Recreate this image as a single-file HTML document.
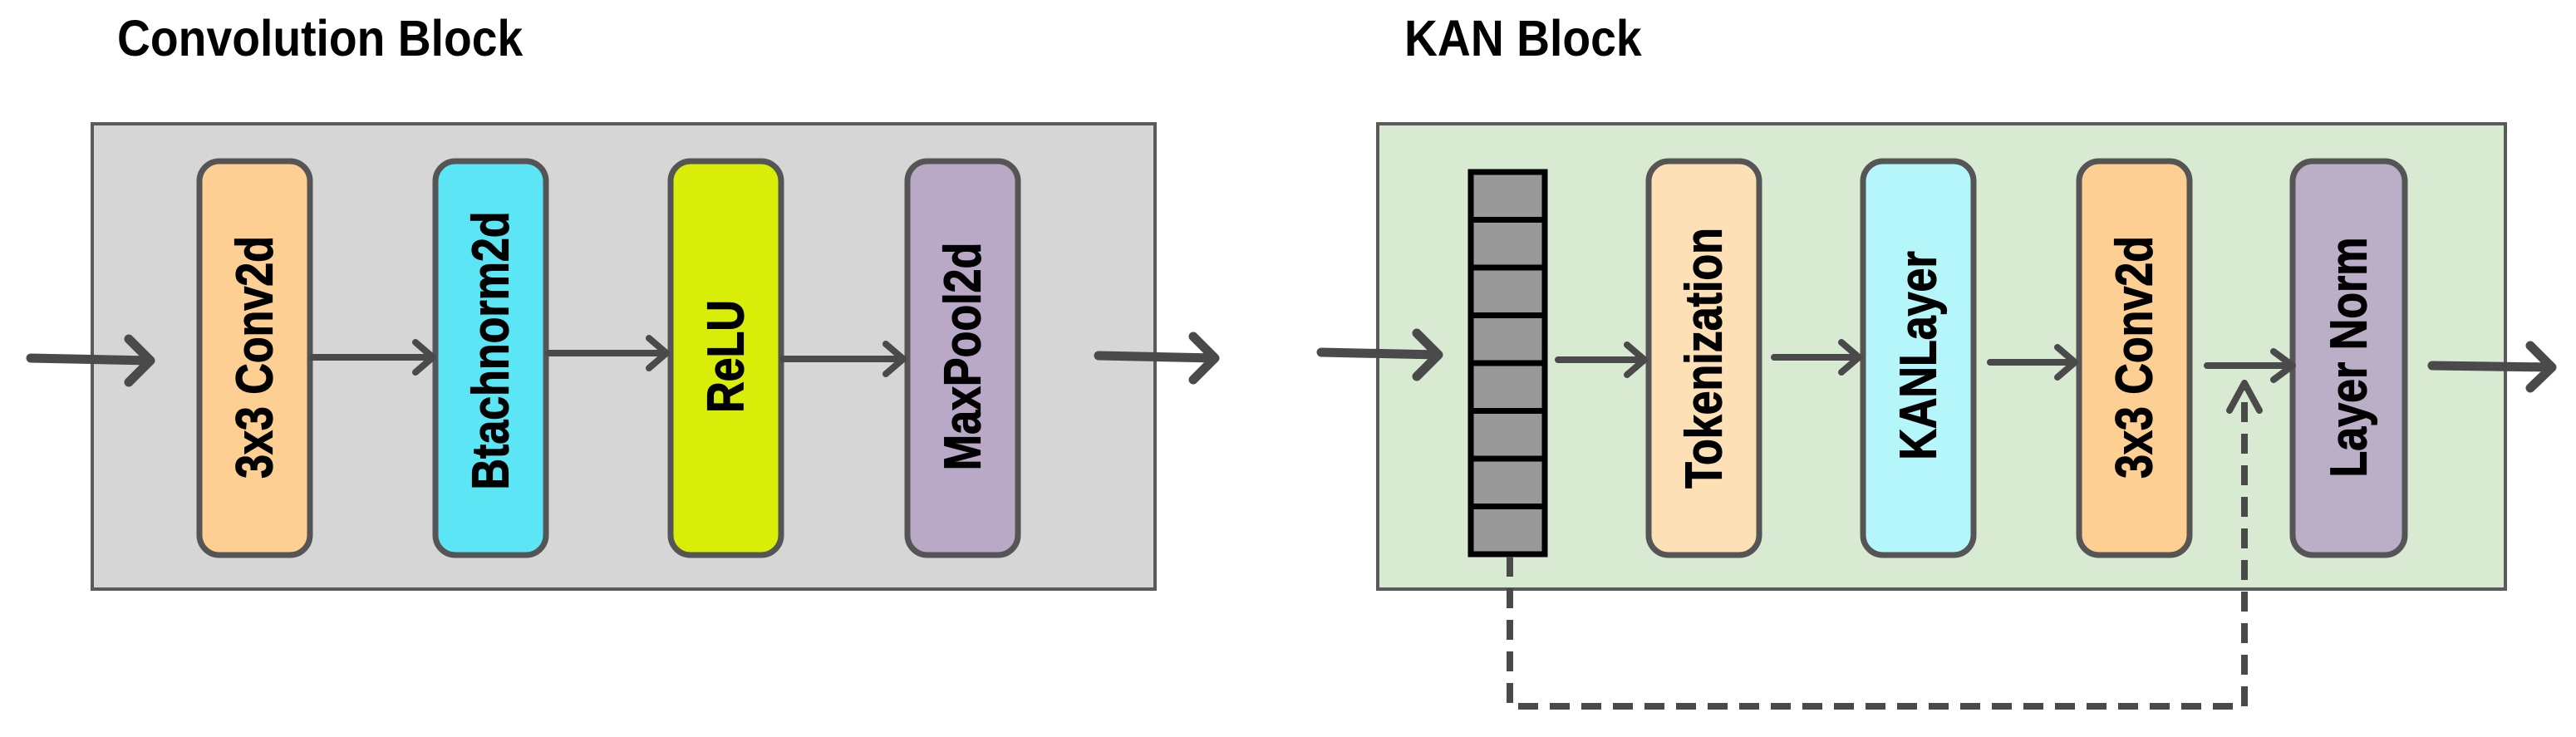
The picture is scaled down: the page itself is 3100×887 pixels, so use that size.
<!DOCTYPE html>
<html><head><meta charset="utf-8"><style>
html,body{margin:0;padding:0;background:#fff;}
svg{display:block;}
text{font-family:"Liberation Sans",Arial,sans-serif;font-weight:bold;}
</style></head><body>
<svg width="3100" height="887" viewBox="0 0 3100 887" xmlns="http://www.w3.org/2000/svg">
<!-- titles -->
<text x="141" y="67" font-size="57" fill="#000" transform="translate(141,67) scale(0.97,1.08) translate(-141,-67)">Convolution Block</text>
<text x="1690" y="67" font-size="57" fill="#000" transform="translate(1690,67) scale(0.97,1.08) translate(-1690,-67)">KAN Block</text>

<!-- left panel -->
<rect x="111" y="149" width="1279" height="560" fill="#d6d6d6" stroke="#5a5a5a" stroke-width="4"/>
<g stroke="#555" stroke-width="7">
<rect x="240" y="194" width="133" height="474" rx="24" fill="#fdcf93"/>
<rect x="524" y="194" width="133" height="474" rx="24" fill="#5ce6f5"/>
<rect x="807" y="194" width="133" height="474" rx="24" fill="#d8ee08"/>
<rect x="1092" y="194" width="133" height="474" rx="24" fill="#b9a8c6"/>
</g>
<g font-size="52" fill="#000" text-anchor="middle" stroke="#000" stroke-width="1">
<text transform="translate(306,430) rotate(-90) scale(1,1.2)" y="18">3x3 Conv2d</text>
<text transform="translate(590,422) rotate(-90) scale(1,1.2)" y="18">Btachnorm2d</text>
<text transform="translate(873,429) rotate(-90) scale(1,1.2)" y="18">ReLU</text>
<text transform="translate(1158,429) rotate(-90) scale(1,1.2)" y="18">MaxPool2d</text>
</g>

<!-- right panel -->
<rect x="1658" y="149" width="1357" height="560" fill="#d9ead3" stroke="#5a5a5a" stroke-width="4"/>
<g stroke="#000" stroke-width="7" fill="#999">
<rect x="1770" y="207" width="89" height="460"/>
</g>
<g stroke="#000" stroke-width="7">
<line x1="1770" y1="264.5" x2="1859" y2="264.5"/>
<line x1="1770" y1="322" x2="1859" y2="322"/>
<line x1="1770" y1="379.5" x2="1859" y2="379.5"/>
<line x1="1770" y1="437" x2="1859" y2="437"/>
<line x1="1770" y1="494.5" x2="1859" y2="494.5"/>
<line x1="1770" y1="552" x2="1859" y2="552"/>
<line x1="1770" y1="609.5" x2="1859" y2="609.5"/>
</g>
<g stroke="#555" stroke-width="7">
<rect x="1984" y="194" width="133" height="474" rx="24" fill="#fde0b5"/>
<rect x="2242" y="194" width="133" height="474" rx="24" fill="#b5f6fb"/>
<rect x="2502" y="194" width="133" height="474" rx="24" fill="#fdcf93"/>
<rect x="2759" y="194" width="135" height="474" rx="24" fill="#bbaec7"/>
</g>
<g font-size="52" fill="#000" text-anchor="middle" stroke="#000" stroke-width="1">
<text transform="translate(2050,431) rotate(-90) scale(1,1.2)" y="18">Tokenization</text>
<text transform="translate(2308,428) rotate(-90) scale(1,1.2)" y="18">KANLayer</text>
<text transform="translate(2568,430) rotate(-90) scale(1,1.2)" y="18">3x3 Conv2d</text>
<text transform="translate(2826,430) rotate(-90) scale(1,1.2)" y="18">Layer Norm</text>
</g>

<!-- arrows -->
<g stroke="#4a4a4a" fill="none" stroke-linecap="round" stroke-linejoin="round">
<g stroke-width="8">
<path d="M376 430 H519 M500 412 L521 430 L500 448"/>
<path d="M660 425 H800 M781 407 L802 425 L781 443"/>
<path d="M942 432 H1085 M1066 414 L1087 432 L1066 450"/>
<path d="M1875 433 H1977 M1958 415 L1979 433 L1958 451"/>
<path d="M2135 430 H2235 M2216 412 L2237 430 L2216 448"/>
<path d="M2395 436 H2495 M2476 418 L2497 436 L2476 454"/>
<path d="M2656 440 H2757 M2736 423 L2759 440 L2736 457"/>
</g>
<g stroke-width="11">
<path d="M37 431 L181 434 M155 408 L181 434 L155 460"/>
<path d="M1322 428 L1462 431 M1436 405 L1462 431 L1436 457"/>
<path d="M1590 424 L1731 427 M1705 401 L1731 427 L1705 453"/>
<path d="M2927 440 L3071 442 M3045 416 L3071 442 L3045 467"/>
</g>
<path d="M1817 670 V850 H2701 V466" stroke-width="8" stroke-dasharray="24 14" stroke-linecap="butt" stroke-linejoin="miter"/>
<path d="M2683 494 L2701 461 L2719 494" stroke-width="8"/>
</g>
</svg>
</body></html>
